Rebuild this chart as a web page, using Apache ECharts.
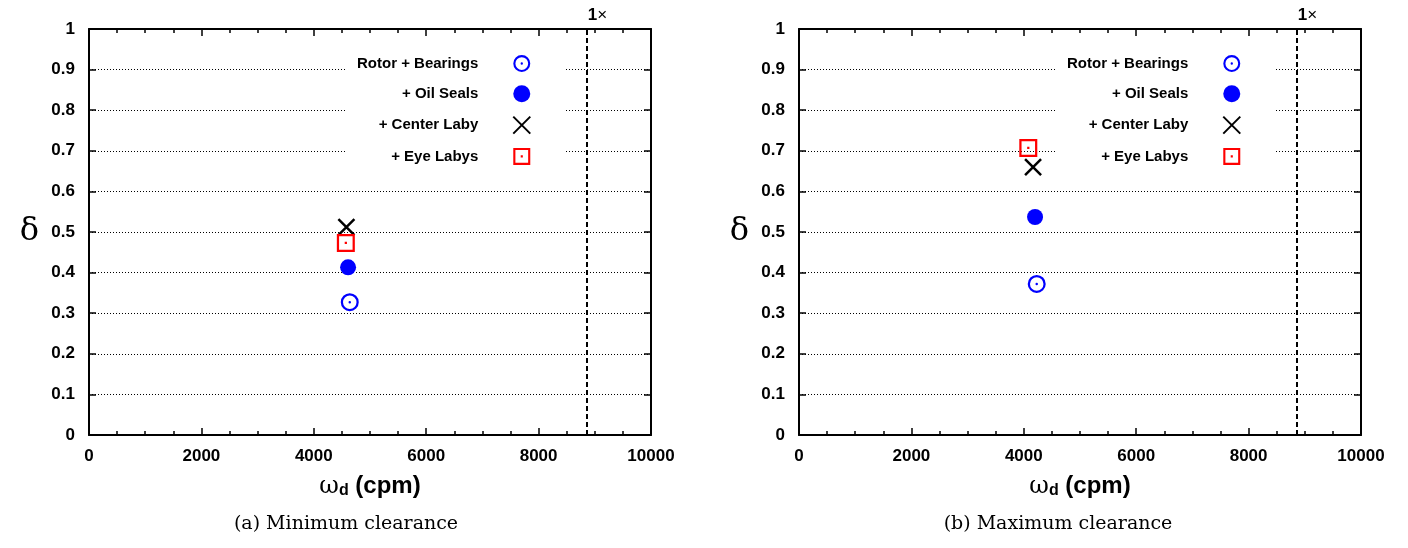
<!DOCTYPE html>
<html>
<head>
<meta charset="utf-8">
<script src="https://cdn.jsdelivr.net/npm/echarts@6/dist/echarts.min.js"></script>
<style>
html,body{margin:0;padding:0;background:#fff;}
#chart{width:1408px;height:548px;}
</style>
</head>
<body>
<div id="chart"></div>
<script>
// ---- data ----
const seriesNames = ['Rotor + Bearings', '+ Oil Seals', '+ Center Laby', '+ Eye Labys'];
// panel (a) Minimum clearance: [omega_d (cpm), delta]
const minRotorBearings = [[4640, 0.327]];
const minOilSeals      = [[4610, 0.413]];
const minCenterLaby    = [[4580, 0.512]];
const minEyeLabys      = [[4570, 0.473]];
// panel (b) Maximum clearance
const maxRotorBearings = [[4230, 0.372]];
const maxOilSeals      = [[4200, 0.537]];
const maxCenterLaby    = [[4165, 0.660]];
const maxEyeLabys      = [[4080, 0.707]];
const runningSpeed = 8850; // 1x line
const captions = ['(a) Minimum clearance', '(b) Maximum clearance'];

const ringPath = 'path://M0 -8A8 8 0 1 1 0 8A8 8 0 1 1 0 -8Z M0 -6A6 6 0 1 0 0 6A6 6 0 1 0 0 -6Z M0 -1.1A1.1 1.1 0 1 1 0 1.1A1.1 1.1 0 1 1 0 -1.1Z';
const squarePath = 'path://M-8 -8H8V8H-8Z M-6 -6V6H6V-6Z M-1 -1H1V1H-1Z';
const crossPath = 'path://M-8 -8L8 8M8 -8L-8 8';

const FONT = 'Liberation Sans';
const plots = [
  {left: 89, captionX: 346, data: [minRotorBearings, minOilSeals, minCenterLaby, minEyeLabys]},
  {left: 799, captionX: 1058, data: [maxRotorBearings, maxOilSeals, maxCenterLaby, maxEyeLabys]}
];
const PW = 562, PT = 29, PH = 406;

const grids = [], xAxes = [], yAxes = [], series = [], legends = [], graphics = [];

plots.forEach((p, i) => {
  grids.push({left: p.left, top: PT, width: PW, height: PH, containLabel: false});
  const xBase = {
    gridIndex: i, type: 'value', min: 0, max: 10000, interval: 2000,
    axisLine: {show: true, onZero: false, lineStyle: {color: '#000', width: 2}},
    axisTick: {show: true, inside: true, length: 7, lineStyle: {color: '#000', width: 1.5}},
    minorTick: {show: true, splitNumber: 4, length: 4, lineStyle: {color: '#000', width: 1.5}},
    splitLine: {show: false}
  };
  xAxes.push(Object.assign({}, xBase, {
    position: 'bottom',
    axisLabel: {show: true, margin: 13, color: '#000', fontFamily: FONT, fontWeight: 'bold', fontSize: 17,
      formatter: v => String(v)},
    name: '{w|ω}{s|d}{b| (cpm)}', nameLocation: 'middle', nameGap: 38,
    nameTextStyle: {rich: {
      w: {fontFamily: 'DejaVu Serif', fontSize: 24, color: '#000', verticalAlign: 'bottom'},
      s: {fontFamily: FONT, fontWeight: 'bold', fontSize: 16, color: '#000', verticalAlign: 'top', padding: [10, 0, 0, 0]},
      b: {fontFamily: FONT, fontWeight: 'bold', fontSize: 24, color: '#000'}
    }}
  }));
  xAxes.push(Object.assign({}, xBase, {position: 'top', axisLabel: {show: false}}));
  const yBase = {
    gridIndex: i, type: 'value', min: 0, max: 1, interval: 0.1,
    axisLine: {show: true, onZero: false, lineStyle: {color: '#000', width: 2}},
    axisTick: {show: true, inside: true, length: 7, lineStyle: {color: '#000', width: 1.5}}
  };
  yAxes.push(Object.assign({}, yBase, {
    position: 'left',
    axisLabel: {show: true, margin: 14, color: '#000', fontFamily: FONT, fontWeight: 'bold', fontSize: 17},
    splitLine: {show: true, lineStyle: {color: '#000', width: 1, type: [1, 2]}},
    name: 'δ', nameLocation: 'middle', nameRotate: 0, nameGap: 50,
    nameTextStyle: {fontFamily: 'DejaVu Serif', fontSize: 32, color: '#000'}
  }));
  yAxes.push(Object.assign({}, yBase, {position: 'right', axisLabel: {show: false}, splitLine: {show: false}}));

  const styles = [
    {symbol: ringPath, symbolSize: 18, itemStyle: {color: '#0000ff', opacity: 1}},
    {symbol: 'circle', symbolSize: 16, itemStyle: {color: '#0000ff', opacity: 1}},
    {symbol: crossPath, symbolSize: 16, itemStyle: {color: 'rgba(0,0,0,0)', borderColor: '#000', borderWidth: 2.5, opacity: 1}},
    {symbol: squarePath, symbolSize: 18, itemStyle: {color: '#ff0000', opacity: 1}}
  ];
  seriesNames.forEach((name, k) => {
    const s = Object.assign({
      name: name, type: 'scatter', xAxisIndex: i * 2, yAxisIndex: i * 2,
      data: p.data[k], silent: true, emphasis: {disabled: true}
    }, styles[k]);
    if (k === 0) {
      s.markLine = {
        silent: true, symbol: ['none', 'none'], animation: false,
        lineStyle: {color: '#000', width: 2, type: [5, 3]},
        label: {show: true, position: 'end', distance: 5, offset: [11, 0],
          formatter: '{a|1}{b|×}',
          rich: {a: {fontFamily: FONT, fontWeight: 'bold', fontSize: 17, color: '#000'},
                 b: {fontFamily: FONT, fontSize: 17, color: '#000'}}},
        data: [{xAxis: runningSpeed}]
      };
    }
    series.push(s);
  });

  legends.push({
    show: true, orient: 'vertical', align: 'right',
    left: 345 + i * 710, top: 45,
    padding: [10, 34, 8, 12],
    backgroundColor: '#fff',
    itemWidth: 17, itemHeight: 17, itemGap: 13.3,
    selectedMode: false,
    data: seriesNames,
    textStyle: {fontFamily: FONT, fontWeight: 'bold', fontSize: 15, color: '#000',
      width: 130, align: 'right', padding: [0, 30, 0, 0]}
  });

  graphics.push({
    type: 'text', x: p.captionX, y: 515,
    style: {text: captions[i], font: '19px "DejaVu Serif"', fill: '#000', textAlign: 'center', textVerticalAlign: 'top'}
  });
});

const chart = echarts.init(document.getElementById('chart'), null, {renderer: 'canvas'});
chart.setOption({
  animation: false,
  backgroundColor: '#fff',
  grid: grids, xAxis: xAxes, yAxis: yAxes, series: series, legend: legends,
  graphic: graphics
});
</script>
</body>
</html>
